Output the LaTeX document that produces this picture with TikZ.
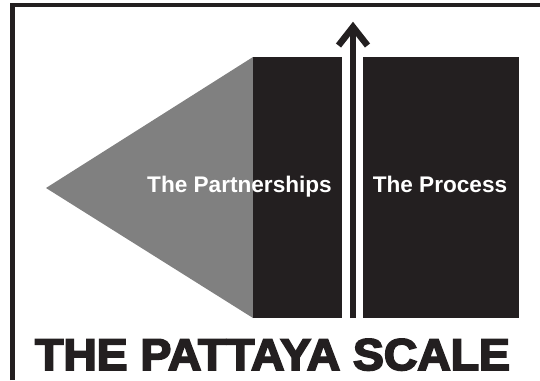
\documentclass[tikz,border=0pt]{standalone}
\usepackage{fontspec}
\setmainfont{Liberation Sans}
\newfontfamily\titlefont[BoldFeatures={FakeBold=4}]{Liberation Sans}
\definecolor{ink}{HTML}{231F20}
\definecolor{wedge}{HTML}{808080}
\tikzset{
  block/.style={fill=ink, draw=none, inner sep=0pt, minimum height=261pt},
  label/.style={text=white, font=\fontsize{22.6}{25}\selectfont\bfseries, inner sep=0pt, anchor=base},
  frameline/.style={draw=ink, line width=4.6pt},
  arrowline/.style={draw=ink, line width=6.5pt}
}
\begin{document}
\begin{tikzpicture}[x=1pt,y=-1pt]
\useasboundingbox (0,0) rectangle (540,380);
% frame (left and top only)
\draw[frameline] (12.4,380) -- (12.4,5) -- (540,5);
% wedge
\fill[wedge] (46,188) -- (253,57) -- (253,318) -- cycle;
% blocks
\node[block, minimum width=89pt] (partner) at (297.5,187.5) {};
\node[block, minimum width=156pt] (process) at (441,187.5) {};
% arrow
\coordinate (abot) at (353,318);
\coordinate (atop) at (353,27);
\coordinate (awl) at (338.5,45.5);
\coordinate (awr) at (367.5,45.5);
\draw[arrowline] (abot) -- (atop);
\draw[arrowline, miter limit=10] (awl) -- (atop) -- (awr);
% labels
\node[label] (tpart) at (239.5,192) {The Partnerships};
\node[label] (tproc) at (440,192) {The Process};
% title
\node[anchor=base, inner sep=0pt, text=ink, font=\titlefont\bfseries\fontsize{44.5}{50}\selectfont] (title) at (272.5,370) {\scalebox{1.04}[1]{THE PATTAYA SCALE}};
\end{tikzpicture}
\end{document}
